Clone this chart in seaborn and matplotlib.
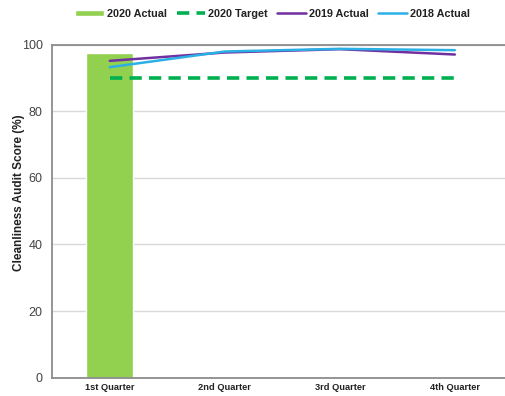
import numpy as np
import pandas as pd
import matplotlib
matplotlib.use("Agg")
import matplotlib.pyplot as plt
import seaborn as sns

quarters = ["1st Quarter", "2nd Quarter", "3rd Quarter", "4th Quarter"]
actual_2020 = [97.6]
target_2020 = [90, 90, 90, 90]
actual_2019 = [95.1, 97.6, 98.6, 97.0]
actual_2018 = [93.2, 97.9, 98.7, 98.3]
y_ticks = [0, 20, 40, 60, 80, 100]

sns.set_theme(style="white")
plt.rcParams["font.family"] = ["Liberation Sans", "DejaVu Sans"]

fig = plt.figure(figsize=(5.05, 3.96), dpi=100)
ax = fig.add_axes([0.1036, 0.0462, 0.911, 0.8414])

bar_df = pd.DataFrame({"quarter": quarters[:len(actual_2020)], "score": actual_2020})
sns.barplot(data=bar_df, x="quarter", y="score", order=quarters, color="#92D050",
            saturation=1, width=0.41, ax=ax, label="2020 Actual")

pos = np.arange(len(quarters))
sns.lineplot(x=pos, y=target_2020, color="#00B050", linewidth=2.6,
             linestyle=(0, (3.4, 2.0)), ax=ax, label="2020 Target")
sns.lineplot(x=pos, y=actual_2019, color="#7030A0", linewidth=1.8, ax=ax, label="2019 Actual")
sns.lineplot(x=pos, y=actual_2018, color="#2BB0E6", linewidth=1.8, ax=ax, label="2018 Actual")

ax.set_xlim(-0.5, 3.5)
ax.set_ylim(0, 100)
ax.set_yticks(y_ticks)
ax.set_xticks(pos)
ax.set_xticklabels(quarters, fontsize=6.7, fontweight="bold", color="#222222")
ax.tick_params(axis="y", labelsize=9, labelcolor="#444444", length=0, pad=7)
ax.tick_params(axis="x", length=0, pad=4)
ax.set_xlabel("")
ax.set_ylabel("Cleanliness Audit Score (%)", fontsize=8.5, fontweight="bold",
              color="#222222")
ax.yaxis.set_label_coords(-0.06, 0.555)

ax.yaxis.grid(True, color="#D9D9D9", linewidth=1)
ax.set_axisbelow(True)
for side in ["left", "bottom", "top"]:
    ax.spines[side].set_color("#8C8C8C")
    ax.spines[side].set_linewidth(1.3)
ax.spines["right"].set_visible(False)

handles, labels = ax.get_legend_handles_labels()
if ax.get_legend() is not None:
    ax.get_legend().remove()
order = [labels.index(l) for l in ["2020 Actual", "2020 Target", "2019 Actual", "2018 Actual"]]
leg = fig.legend([handles[i] for i in order], [labels[i] for i in order],
                 loc="center", bbox_to_anchor=(0.54, 0.965), ncol=4, frameon=False,
                 prop={"size": 7.8, "weight": "bold"}, handlelength=2.6, handletextpad=0.3,
                 columnspacing=0.9, handleheight=0.5)
for t in leg.get_texts():
    t.set_color("#222222")

fig.savefig("out.png", dpi=100)
